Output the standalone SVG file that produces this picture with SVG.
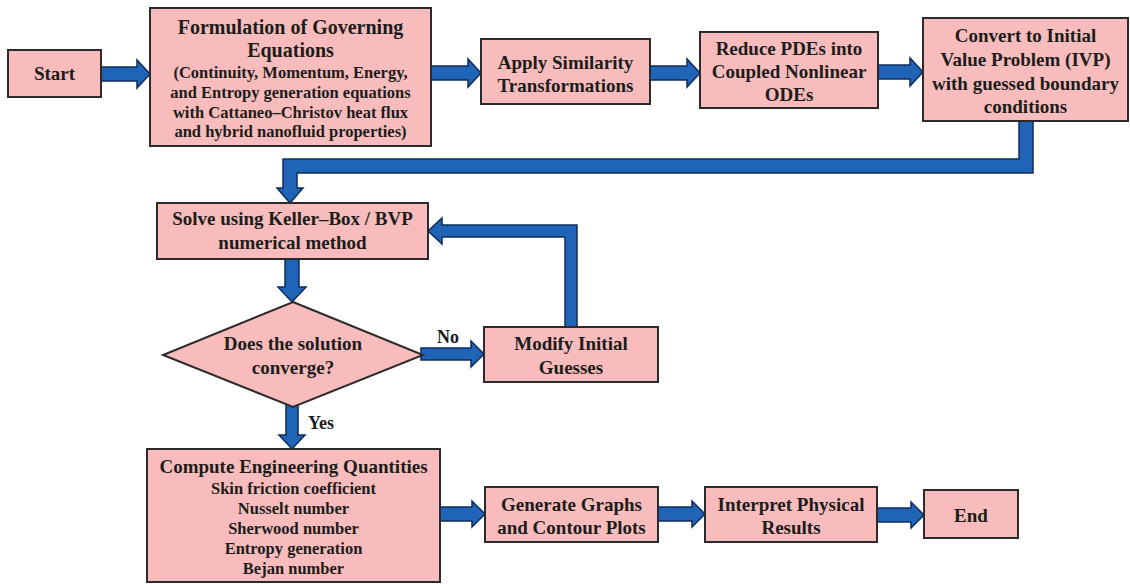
<svg xmlns="http://www.w3.org/2000/svg" width="1130" height="584" viewBox="0 0 1130 584">
<style>
.box{fill:#f7bcbb;stroke:#2b2b2b;stroke-width:2}
.arr{fill:#1f64b6;stroke:#0f2d5a;stroke-width:1.5;stroke-linejoin:miter}
text{font-family:"Liberation Serif","Times New Roman",serif;font-weight:bold;fill:#1c1c1c;text-anchor:middle;dominant-baseline:central}
.t{font-size:19px}
.tt{font-size:20px}
.s{font-size:16.5px}
.lab{font-size:18px;text-anchor:start}
</style>
<rect width="1130" height="584" fill="#ffffff"/>
<g id="connectors">
<polygon class="arr" points="101,67 137,67 137,60 150,74 137,88 137,81 101,81"/>
<polygon class="arr" points="431,66 468,66 468,59 481,73 468,87 468,80 431,80"/>
<polygon class="arr" points="650,66 687,66 687,59 700,73 687,87 687,80 650,80"/>
<polygon class="arr" points="878,65 910,65 910,58 923,72 910,86 910,79 878,79"/>
<polygon class="arr" points="1019,121 1019,159 283,159 283,188 277,188 290,203 303,188 297,188 297,173 1033,173 1033,121"/>
<polygon class="arr" points="285,259 285,287 278,287 292,302 306,287 299,287 299,259"/>
<polygon class="arr" points="421,348 471,348 471,341 484,354 471,367 471,360 421,360"/>
<polygon class="arr" points="565,327 565,237 442,237 442,244 428,231 442,218 442,225 577,225 577,327"/>
<polygon class="arr" points="286,404 286,435 279,435 292,449 305,435 298,435 298,404"/>
<polygon class="arr" points="440,507 472,507 472,501 485,514 472,527 472,521 440,521"/>
<polygon class="arr" points="658,507 692,507 692,501 705,514 692,527 692,521 658,521"/>
<polygon class="arr" points="877,508 911,508 911,502 924,515 911,528 911,522 877,522"/>
<text class="lab" x="437" y="337">No</text>
<text class="lab" x="308" y="423">Yes</text>
</g>
<g id="start">
<rect class="box" x="8" y="50" width="93" height="47"/>
<text class="t" x="54.5" y="73.5">Start</text>
</g>
<g id="formulation">
<rect class="box" x="150" y="8" width="281" height="138"/>
<text class="tt" x="290.5" y="27">Formulation of Governing</text>
<text class="tt" x="290.5" y="50">Equations</text>
<text class="s" x="290.5" y="72">(Continuity, Momentum, Energy,</text>
<text class="s" x="290.5" y="92">and Entropy generation equations</text>
<text class="s" x="290.5" y="112">with Cattaneo–Christov heat flux</text>
<text class="s" x="290.5" y="131">and hybrid nanofluid properties)</text>
</g>
<g id="similarity">
<rect class="box" x="481" y="39" width="169" height="65"/>
<text class="t" x="565.5" y="62">Apply Similarity</text>
<text class="t" x="565.5" y="85">Transformations</text>
</g>
<g id="reduce">
<rect class="box" x="700" y="32" width="178" height="76"/>
<text class="t" x="789" y="48">Reduce PDEs into</text>
<text class="t" x="789" y="71">Coupled Nonlinear</text>
<text class="t" x="789" y="94">ODEs</text>
</g>
<g id="convert">
<rect class="box" x="923" y="18" width="205" height="103"/>
<text class="t" x="1025.5" y="35">Convert to Initial</text>
<text class="t" x="1025.5" y="59">Value Problem (IVP)</text>
<text class="t" x="1025.5" y="83">with guessed boundary</text>
<text class="t" x="1025.5" y="106">conditions</text>
</g>
<g id="solve">
<rect class="box" x="157" y="203" width="271" height="56"/>
<text class="t" x="292.5" y="218">Solve using Keller–Box / BVP</text>
<text class="t" x="292.5" y="242">numerical method</text>
</g>
<g id="decision">
<polygon class="box" points="293,302 423,355 293,407 163,355"/>
<text class="t" x="293" y="343">Does the solution</text>
<text class="t" x="293" y="367">converge?</text>
</g>
<g id="modify">
<rect class="box" x="484" y="327" width="174" height="55"/>
<text class="t" x="571" y="343">Modify Initial</text>
<text class="t" x="571" y="367">Guesses</text>
</g>
<g id="compute">
<rect class="box" x="147" y="449" width="293" height="133"/>
<text class="t" x="293.5" y="466">Compute Engineering Quantities</text>
<text class="s" x="293.5" y="488">Skin friction coefficient</text>
<text class="s" x="293.5" y="508">Nusselt number</text>
<text class="s" x="293.5" y="528">Sherwood number</text>
<text class="s" x="293.5" y="548">Entropy generation</text>
<text class="s" x="293.5" y="568">Bejan number</text>
</g>
<g id="graphs">
<rect class="box" x="485" y="487" width="173" height="55"/>
<text class="t" x="571.5" y="504">Generate Graphs</text>
<text class="t" x="571.5" y="527">and Contour Plots</text>
</g>
<g id="interpret">
<rect class="box" x="705" y="487" width="172" height="55"/>
<text class="t" x="791" y="504">Interpret Physical</text>
<text class="t" x="791" y="527">Results</text>
</g>
<g id="end">
<rect class="box" x="924" y="490" width="94" height="48"/>
<text class="t" x="971" y="515">End</text>
</g>
</svg>
